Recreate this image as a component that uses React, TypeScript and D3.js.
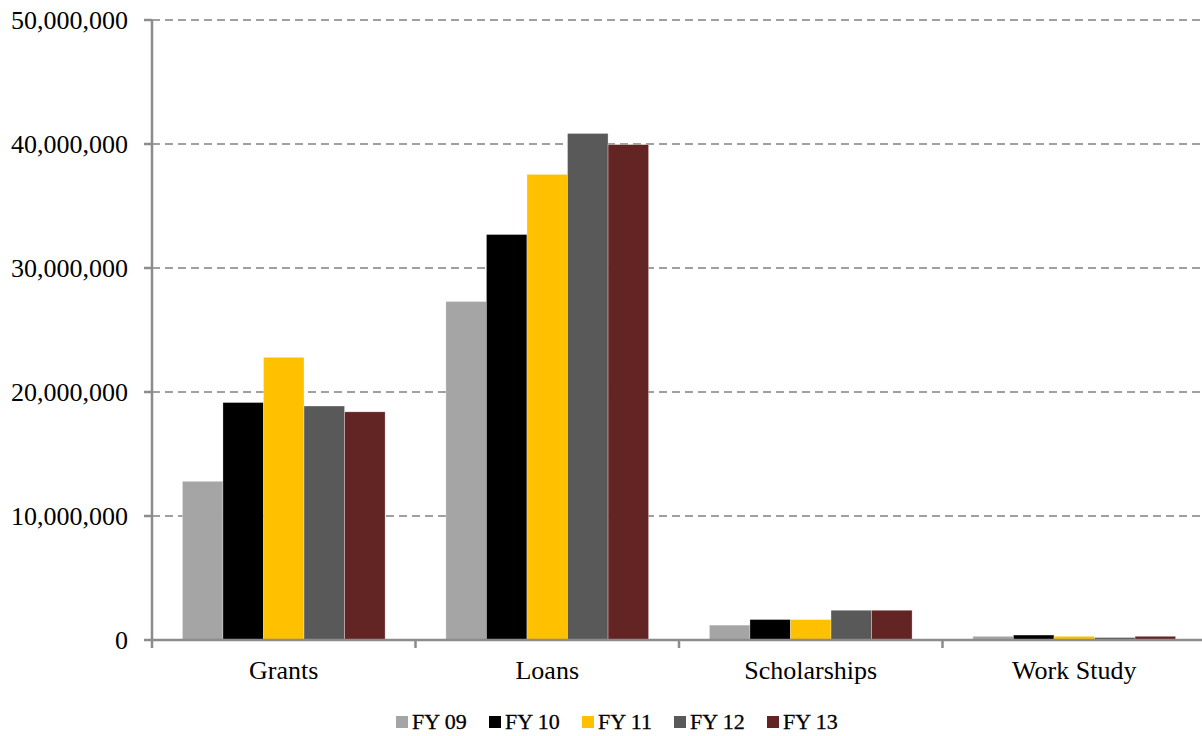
import React from "react";
import * as d3 from "d3";

const categories = ["Grants", "Loans", "Scholarships", "Work Study"];
const seriesNames = ["FY 09", "FY 10", "FY 11", "FY 12", "FY 13"];
const seriesColors = ["#A5A5A5", "#000000", "#FFC000", "#595959", "#632523"];
const fy09 = [12800000, 27300000, 1200000, 300000];
const fy10 = [19150000, 32700000, 1650000, 400000];
const fy11 = [22800000, 37550000, 1650000, 300000];
const fy12 = [18870000, 40850000, 2400000, 200000];
const fy13 = [18400000, 39950000, 2400000, 300000];
const seriesValues = [fy09, fy10, fy11, fy12, fy13];
const yTicks = [0, 10000000, 20000000, 30000000, 40000000, 50000000];

const W = 1202;
const H = 736;
const left = 152;
const top = 20;
const bottom = 640;
const right = 1206;

export default function App() {
  const y = d3.scaleLinear().domain([0, 50000000]).range([bottom, top]);
  const x0 = d3.scaleBand<string>().domain(categories).range([left, right]).padding(0);
  const x1 = d3
    .scaleBand<string>()
    .domain(seriesNames)
    .range([0, x0.bandwidth()])
    .paddingInner(0)
    .paddingOuter(0.75);
  const fmt = d3.format(",");
  const font = "'Liberation Serif', 'Times New Roman', serif";
  const axisColor = "#8c8c8c";
  const legendX = [396, 489, 582, 674, 767];

  return (
    <svg
      width={W}
      height={H}
      style={{ position: "absolute", left: 0, top: 0, background: "#fff" }}
      fontFamily={font}
    >
      {yTicks.slice(1).map((t) => (
        <line
          key={"g" + t}
          x1={left}
          x2={W}
          y1={y(t)}
          y2={y(t)}
          stroke="#a0a0a0"
          strokeWidth={2}
          strokeDasharray="8,5"
        />
      ))}
      {categories.map((c, ci) =>
        seriesNames.map((s, si) => {
          const v = seriesValues[si][ci];
          return (
            <rect
              key={c + s}
              x={(x0(c) as number) + (x1(s) as number)}
              y={y(v)}
              width={x1.bandwidth()}
              height={bottom - y(v)}
              fill={seriesColors[si]}
              stroke="#ffffff"
              strokeOpacity={0.5}
              strokeWidth={0.6}
            />
          );
        })
      )}
      {/* y axis */}
      <line x1={left} x2={left} y1={top} y2={bottom + 1} stroke={axisColor} strokeWidth={2.5} />
      {yTicks.map((t) => (
        <g key={"t" + t}>
          <line x1={left - 8} x2={left} y1={y(t)} y2={y(t)} stroke={axisColor} strokeWidth={2.5} />
          <text
            x={128}
            y={y(t)}
            textAnchor="end"
            dominantBaseline="central"
            fontSize={26}
            fill="#000"
          >
            {fmt(t)}
          </text>
        </g>
      ))}
      {/* x axis */}
      <line x1={left} x2={W} y1={bottom} y2={bottom} stroke={axisColor} strokeWidth={2.5} />
      {categories.map((c) => (
        <line
          key={"xt" + c}
          x1={x0(c) as number}
          x2={x0(c) as number}
          y1={bottom}
          y2={bottom + 8}
          stroke={axisColor}
          strokeWidth={2.5}
        />
      ))}
      {categories.map((c) => (
        <text
          key={"xl" + c}
          x={(x0(c) as number) + x0.bandwidth() / 2}
          y={679}
          textAnchor="middle"
          fontSize={26}
          fill="#000"
        >
          {c}
        </text>
      ))}
      {/* legend */}
      {seriesNames.map((s, i) => (
        <g key={"l" + s}>
          <rect x={legendX[i]} y={716} width={12} height={12} fill={seriesColors[i]} />
          <text x={legendX[i] + 16} y={729} fontSize={22} fill="#000" stroke="#000" strokeWidth={0.3}>
            {s}
          </text>
        </g>
      ))}
    </svg>
  );
}
